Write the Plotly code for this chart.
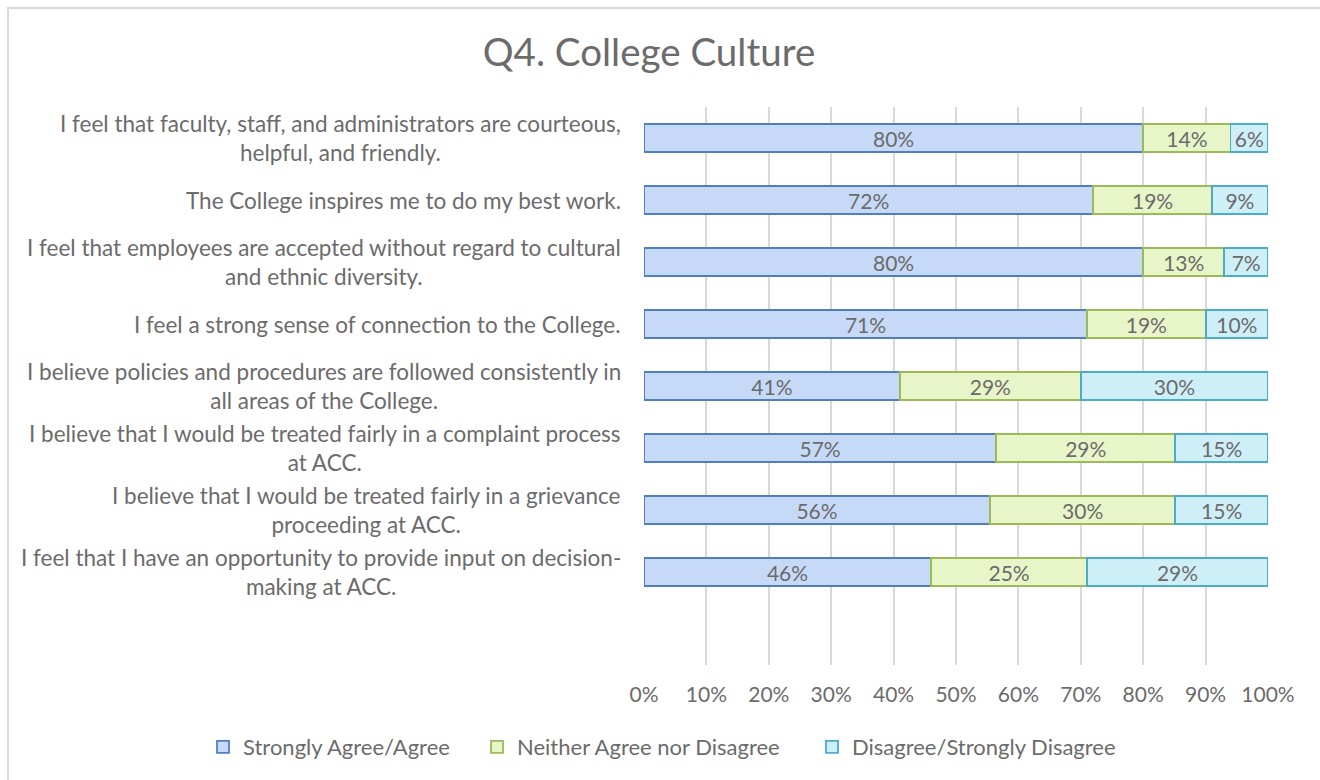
import plotly.graph_objects as go

categories = [
    "I feel that faculty, staff, and administrators are courteous,<br>helpful, and friendly.",
    "The College inspires me to do my best work.",
    "I feel that employees are accepted without regard to cultural<br>and ethnic diversity.",
    "I feel a strong sense of connection to the College.",
    "I believe policies and procedures are followed consistently in<br>all areas of the College.",
    "I believe that I would be treated fairly in a complaint process<br>at ACC.",
    "I believe that I would be treated fairly in a grievance<br>proceeding at ACC.",
    "I feel that I have an opportunity to provide input on decision-<br>making at ACC.",
]
agree = [80, 72, 80, 71, 41, 57, 56, 46]
neither = [14, 19, 13, 19, 29, 29, 30, 25]
disagree = [6, 9, 7, 10, 30, 15, 15, 29]
series_names = ["Strongly Agree/Agree", "Neither Agree nor Disagree", "Disagree/Strongly Disagree"]
x_ticks = [0, 10, 20, 30, 40, 50, 60, 70, 80, 90, 100]
x_tick_labels = ["0%", "10%", "20%", "30%", "40%", "50%", "60%", "70%", "80%", "90%", "100%"]

FONT = "Lato, 'Open Sans', sans-serif"
GRAY = "#6b6b6b"

totals = [a + b + c for a, b, c in zip(agree, neither, disagree)]
idx = list(range(len(categories)))

fills = ["#c6d9f7", "#e8f5c8", "#cfeff8"]
borders = ["#4f7fc0", "#9bbb59", "#4bacc6"]
legend_ids = ["legend", "legend2", "legend3"]
legend_text_px = [245, 519, 854]

fig = go.Figure()
for name, vals, fc, bc, lid in zip(series_names, [agree, neither, disagree], fills, borders, legend_ids):
    share = [100.0 * v / t for v, t in zip(vals, totals)]
    fig.add_trace(go.Bar(
        y=idx, x=share, orientation="h", name=name,
        width=0.44, legend=lid,
        marker=dict(color=fc, line=dict(color=bc, width=1.8)),
        text=[f"{v}%" for v in vals],
        textposition="inside", insidetextanchor="middle",
        constraintext="none",
        textfont=dict(family=FONT, size=21, color=GRAY),
        hoverinfo="skip",
    ))

L, R, T, B = 644, 52, 107, 115
W, H = 1320, 780
pw, ph = W - L - R, H - T - B


def px2x(px):
    return (px - L) / pw


def px2y(py):
    return (H - B - py) / ph


annotations = []
for i, c in enumerate(categories):
    annotations.append(dict(
        x=px2x(623), xref="paper", y=i, yref="y", text=c, showarrow=False,
        xanchor="right", yanchor="middle", align="center",
        font=dict(family=FONT, size=22.5, color=GRAY),
    ))

legend_common = dict(orientation="h", xref="container", yref="container",
                     xanchor="left", y=1 - 747 / H, yanchor="middle",
                     font=dict(family=FONT, size=22, color=GRAY),
                     itemwidth=30, bgcolor="rgba(0,0,0,0)")
legends = {}
for lid, tx in zip(legend_ids, legend_text_px):
    legends[lid] = dict(legend_common, x=(tx - 42) / W)

fig.update_layout(
    width=W, height=H,
    margin=dict(l=L, r=R, t=T, b=B, autoexpand=False),
    paper_bgcolor="white", plot_bgcolor="white",
    barmode="stack",
    title=dict(text="Q4. College Culture", x=649 / W, xref="container", xanchor="center",
               y=1 - 53 / H, yanchor="middle",
               font=dict(family=FONT, size=38.5, color=GRAY)),
    font=dict(family=FONT, color=GRAY, size=22),
    uniformtext=dict(minsize=21, mode="show"),
    xaxis=dict(range=[0, 100], tickvals=x_ticks, ticktext=x_tick_labels,
               showgrid=True, gridcolor="#d9d9d9", gridwidth=1.5,
               zeroline=False, showline=False, ticks="",
               ticklabelstandoff=15,
               tickfont=dict(family=FONT, size=21, color=GRAY), fixedrange=True),
    yaxis=dict(range=[8.5, -0.5], showticklabels=False, showgrid=False,
               zeroline=False, showline=False, ticks="", fixedrange=True),
    annotations=annotations,
    shapes=[dict(type="rect", xref="paper", yref="paper",
                 x0=px2x(8), x1=px2x(1420), y0=px2y(860), y1=px2y(8),
                 line=dict(color="#d9d9d9", width=2), fillcolor="rgba(0,0,0,0)", layer="below")],
    showlegend=True,
    **legends,
)

fig.write_html("out.html", config={"displayModeBar": False},
               post_script="document.body.style.margin='0px';document.body.style.overflow='hidden';")
